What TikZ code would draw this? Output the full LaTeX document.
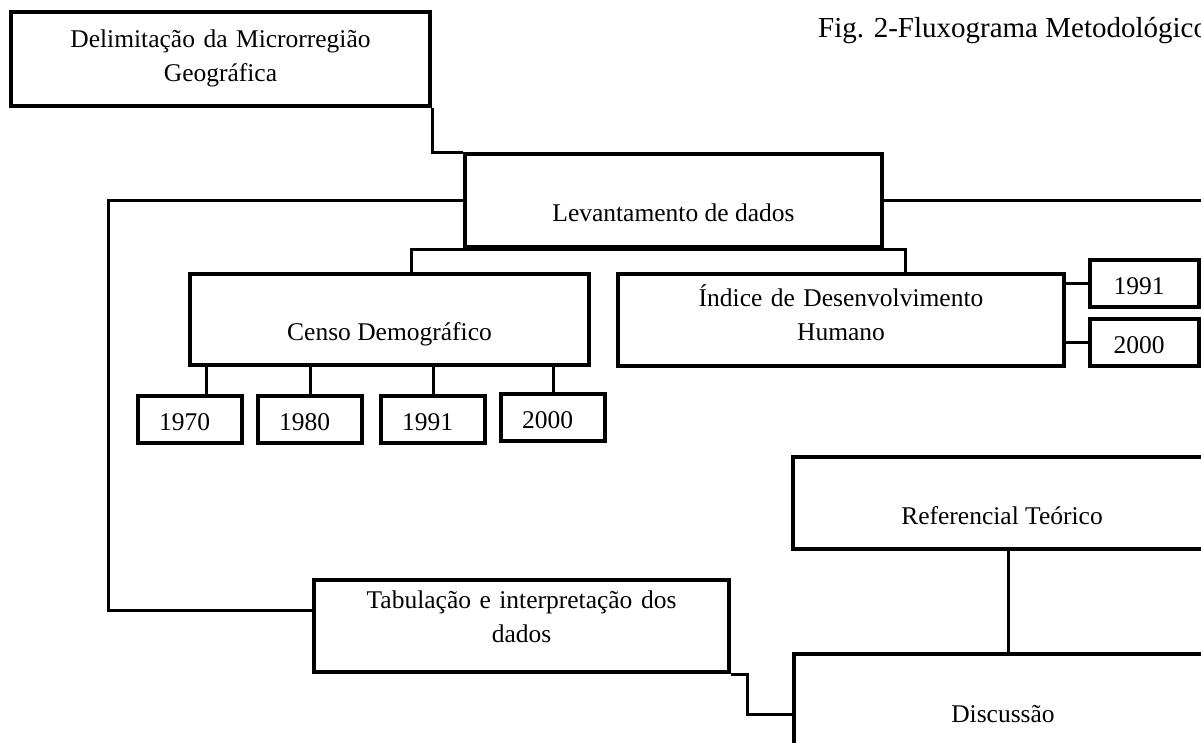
\documentclass[tikz,border=0pt]{standalone}
\usepackage{fontspec}
\setmainfont{Liberation Serif}
\usepackage{tikz}
\newcommand\boxfont{\fontsize{25.5}{34}\selectfont}
\newcommand\titlefont{\fontsize{29}{34}\selectfont}

\begin{document}
\begin{tikzpicture}[x=1pt, y=-1pt]
  \tikzset{
    box/.style={draw, line width=4pt, inner sep=0pt, anchor=north west, font=\boxfont, text height=41pt, text depth=0pt},
    twoline/.style={box, align=center, inner xsep=10pt},
    year/.style={box, align=left, inner xsep=21pt, text width=62pt, minimum height=47pt, text height=22pt},
    link/.style={line width=3pt},
  }
  \useasboundingbox (0,0) rectangle (1201,742);
  \clip (0,0) rectangle (1201,742);

  % boxes
  \node (delim) at (9,10) [twoline, minimum width=419pt, minimum height=94pt, text width=399pt, text height=10pt, text depth=34pt] {Delimitação da Microrregião\\Geográfica};
  \node (lev) at (463,152) [box, minimum width=417pt, minimum height=93pt] {Levantamento de dados};
  \node (censo) at (188,272) [box, minimum width=399pt, minimum height=91pt] {Censo Demográfico};
  \node (idh) at (616,272) [twoline, minimum width=446pt, minimum height=92pt, text width=426pt, text height=10pt, text depth=38pt] {Índice de Desenvolvimento\\Humano};
  \node (y1970) at (136,394) [year] {1970};
  \node (y1980) at (256,394) [year] {1980};
  \node (y1991) at (379,394) [year] {1991};
  \node (y2000) at (499,392) [year] {2000};
  \node (h1991) at (1088,258) [year, minimum width=109pt] {1991};
  \node (h2000) at (1088,317) [year, minimum width=109pt] {2000};
  \node (ref) at (791,455) [box, minimum width=418pt, minimum height=92pt, text height=42pt] {Referencial Teórico};
  \node (tab) at (312,578) [twoline, minimum width=415pt, minimum height=92pt, text width=395pt, text height=10pt, text depth=46pt] {Tabulação e interpretação dos\\dados};
  \node (disc) at (792,652) [box, minimum width=418pt, minimum height=92pt, text height=44pt] {Discussão};
  \node (title) at (818,37) [anchor=base west, font=\titlefont, inner sep=0pt] {Fig. 2-Fluxograma Metodológico};

  % links
  \draw [link] (delim.south east) |- (lev.north west);
  \draw [link] (lev.west) -- ++(-355,0) |- ([yshift=16pt]tab.west);
  \draw [link] (lev.east) -- ++(340,0);
  \draw [link] ([xshift=22pt]censo.north) |- (lev.south) -| ([xshift=64pt]idh.north);
  \draw [link] ([xshift=16pt]y1970.north) -- ([xshift=16pt]y1970.north |- censo.south);
  \foreach \y in {y1980,y1991,y2000}
    \draw [link] (\y.north) -- (\y.north |- censo.south);
  \draw [link] (h1991.west) -- (h1991.west -| idh.east);
  \draw [link] (h2000.west) -- (h2000.west -| idh.east);
  \draw [link] ([xshift=6pt]ref.south) -- ([xshift=6pt]ref.south |- disc.north);
  \draw [link] (tab.south east) -- ++(16,0) |- ([yshift=-14pt]disc.west);
\end{tikzpicture}
\end{document}
